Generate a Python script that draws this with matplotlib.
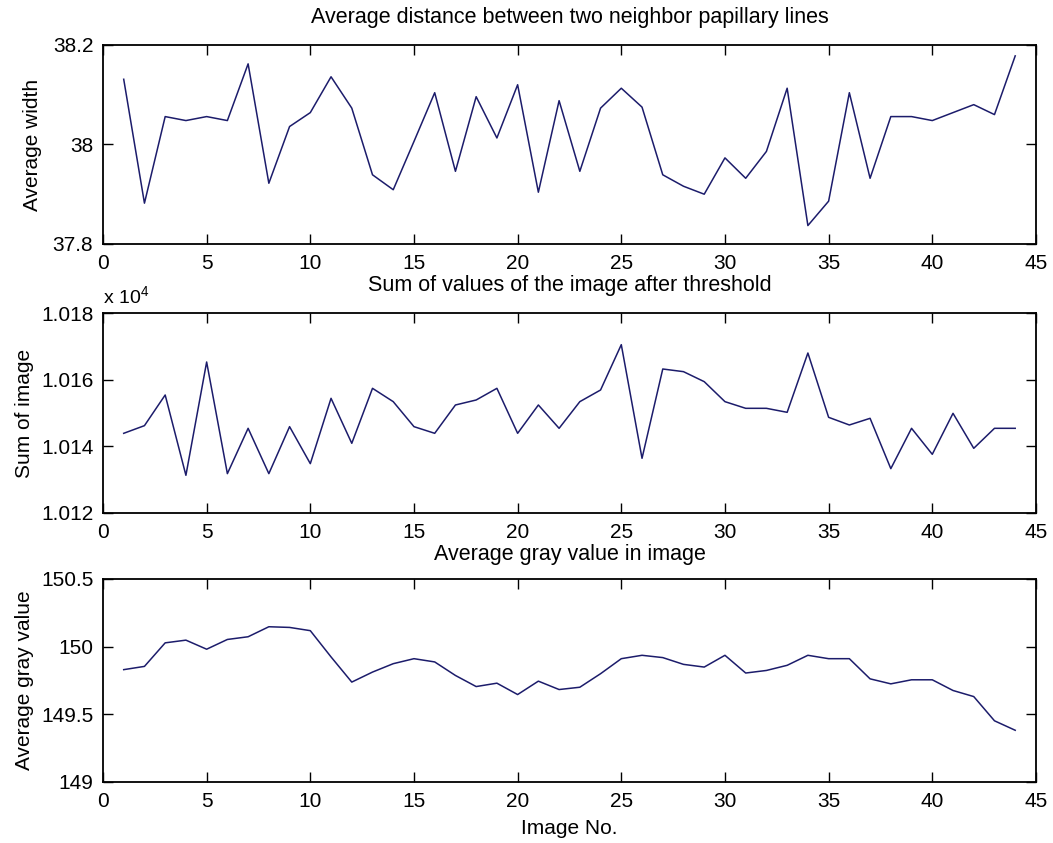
import matplotlib
matplotlib.use('Agg')
import matplotlib.pyplot as plt
from matplotlib.ticker import FuncFormatter

# image numbers 1..44
image_no = list(range(1, 45))

# average distance between neighbour papillary lines
avg_width = [38.131, 37.882, 38.056, 38.048, 38.056, 38.048, 38.162, 37.922, 38.036, 38.064,
             38.136, 38.073, 37.939, 37.909, 38.006, 38.104, 37.946, 38.096, 38.013, 38.120,
             37.904, 38.088, 37.946, 38.073, 38.113, 38.075, 37.939, 37.916, 37.900, 37.973,
             37.932, 37.986, 38.113, 37.837, 37.886, 38.104, 37.932, 38.056, 38.056, 38.048,
             38.064, 38.080, 38.060, 38.178]

# sum of image values after threshold
sum_image = [10143.9, 10146.2, 10155.4, 10131.3, 10165.3, 10131.8, 10145.4, 10131.8, 10145.9, 10134.8,
             10154.4, 10140.9, 10157.4, 10153.4, 10145.9, 10143.9, 10152.4, 10153.9, 10157.4, 10143.9,
             10152.4, 10145.4, 10153.4, 10156.9, 10170.5, 10136.4, 10163.2, 10162.4, 10159.4, 10153.4,
             10151.4, 10151.4, 10150.2, 10168.0, 10148.7, 10146.4, 10148.4, 10133.3, 10145.4, 10137.6,
             10149.9, 10139.4, 10145.4, 10145.4]

# average gray value
avg_gray = [149.830, 149.854, 150.028, 150.048, 149.981, 150.053, 150.073, 150.147, 150.142, 150.118,
            149.924, 149.738, 149.812, 149.874, 149.911, 149.887, 149.787, 149.705, 149.730, 149.646,
            149.745, 149.683, 149.700, 149.800, 149.911, 149.936, 149.919, 149.869, 149.849, 149.936,
            149.805, 149.824, 149.862, 149.936, 149.911, 149.911, 149.762, 149.725, 149.755, 149.755,
            149.676, 149.631, 149.452, 149.382]

x_ticks = [0, 5, 10, 15, 20, 25, 30, 35, 40, 45]

plt.rcParams['font.family'] = ['Liberation Sans', 'DejaVu Sans']
plt.rcParams['font.size'] = 15
plt.rcParams['mathtext.default'] = 'regular'

line_color = '#1c1c6b'

fig = plt.figure(figsize=(10.53, 8.43), dpi=100)
ax1 = fig.add_axes([0.0978, 0.7106, 0.886, 0.2361])
ax2 = fig.add_axes([0.0978, 0.3915, 0.886, 0.2372])
ax3 = fig.add_axes([0.0978, 0.0724, 0.886, 0.2408])

def style(ax):
    ax.set_xlim(0, 45)
    ax.set_xticks(x_ticks)
    ax.tick_params(direction='in', top=True, right=True, length=7, width=1, pad=7)
    for s in ax.spines.values():
        s.set_linewidth(1.3)

# top panel
ax1.plot(image_no, avg_width, color=line_color, linewidth=1.1)
style(ax1)
ax1.set_ylim(37.8, 38.2)
ax1.set_yticks([37.8, 38.0, 38.2])
ax1.yaxis.set_major_formatter(FuncFormatter(lambda v, p: '%g' % round(v, 3)))
ax1.set_ylabel('Average width', labelpad=8)
ax1.set_title('Average distance between two neighbor papillary lines', fontsize=15.5, pad=16)

# middle panel
ax2.plot(image_no, sum_image, color=line_color, linewidth=1.1)
style(ax2)
ax2.set_ylim(10120, 10180)
ax2.set_yticks([10120, 10140, 10160, 10180])
ax2.yaxis.set_major_formatter(FuncFormatter(lambda v, p: '%.3f' % (v / 1e4)))
ax2.set_ylabel('Sum of image', labelpad=5)
ax2.set_title('Sum of values of the image after threshold', fontsize=15.5, pad=16)
ax2.text(0.0, 1.03, r'x 10$^{4}$', transform=ax2.transAxes, ha='left', va='bottom', fontsize=14)

# bottom panel
ax3.plot(image_no, avg_gray, color=line_color, linewidth=1.1)
style(ax3)
ax3.set_ylim(149, 150.5)
ax3.set_yticks([149, 149.5, 150, 150.5])
ax3.yaxis.set_major_formatter(FuncFormatter(lambda v, p: '%g' % v))
ax3.set_ylabel('Average gray value', labelpad=5)
ax3.set_xlabel('Image No.', labelpad=6)
ax3.set_title('Average gray value in image', fontsize=15.5, pad=14)

fig.savefig('out.png', dpi=100)
